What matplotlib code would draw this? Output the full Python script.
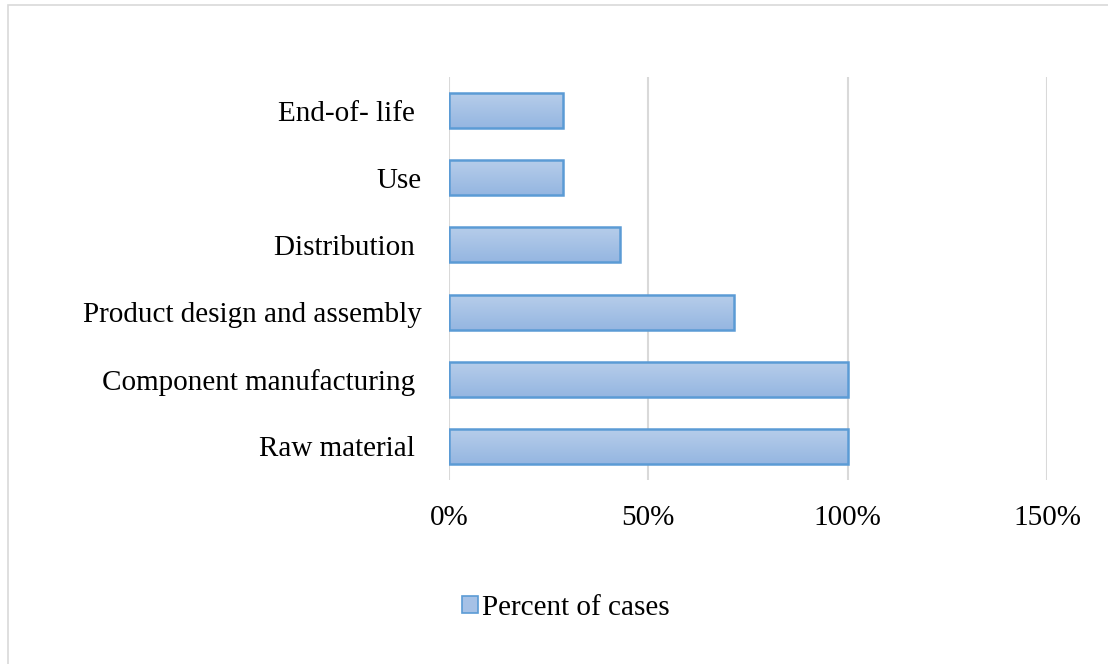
import numpy as np
import matplotlib.pyplot as plt
from matplotlib.patches import Rectangle, Patch
from matplotlib.colors import LinearSegmentedColormap

plt.rcParams['font.family'] = ['Liberation Serif', 'DejaVu Serif']

# data (bottom to top)
categories = ['Raw material ', 'Component manufacturing ', 'Product design and assembly',
              'Distribution ', 'Use', 'End-of- life ']
percent = [1.0, 1.0, 5 / 7, 3 / 7, 2 / 7, 2 / 7]
xticks = [0, 0.5, 1.0, 1.5]
xtick_labels = ['0%', '50%', '100%', '150%']
series_name = 'Percent of cases'

edge_color = '#5b9bd5'
grad = LinearSegmentedColormap.from_list('bar', ['#95b6e1', '#b6cdea'])

fig = plt.figure(figsize=(11.08, 6.64), dpi=100)
ax = fig.add_axes([449 / 1108, 1 - 480 / 664, 598 / 1108, 403 / 664])

y = np.arange(len(categories))
bars = ax.barh(y, percent, height=0.52, color='none', edgecolor=edge_color,
               linewidth=1.8, zorder=3)

# vertical gradient inside each bar
g = np.linspace(0, 1, 64).reshape(-1, 1)
for b in bars:
    x0, y0 = b.get_x(), b.get_y()
    im = ax.imshow(g, cmap=grad, aspect='auto', origin='lower',
                   extent=(x0, x0 + b.get_width(), y0, y0 + b.get_height()),
                   zorder=2)
    im.set_clip_path(b)

ax.set_xlim(0, 1.5)
ax.set_ylim(-0.5, len(categories) - 0.5)
ax.set_xticks(xticks)
ax.set_xticklabels(xtick_labels, fontsize=21)
ax.set_yticks(y)
ax.set_yticklabels(categories, fontsize=21)
ax.tick_params(axis='y', length=0, pad=19.5)
ax.tick_params(axis='x', length=0, pad=18)
ax.grid(axis='x', color='#d9d9d9', linewidth=1.5, zorder=0)
ax.set_axisbelow(True)
for s in ax.spines.values():
    s.set_visible(False)

# chart area border (only top and left visible)
fig.patches.append(Rectangle((8 / 1108, -0.1), 1.2, 1 - 5 / 664 + 0.1,
                             transform=fig.transFigure, fill=False,
                             edgecolor='#d9d9d9', linewidth=1.2))

handle = Patch(facecolor='#a6c1e6', edgecolor=edge_color, linewidth=1.2)
fig.legend([handle], [series_name], loc='center', frameon=False,
           bbox_to_anchor=(566 / 1108, 1 - 608 / 664), fontsize=21,
           handlelength=0.55, handleheight=0.55, handletextpad=0.15)

fig.savefig('out.png', dpi=100)
